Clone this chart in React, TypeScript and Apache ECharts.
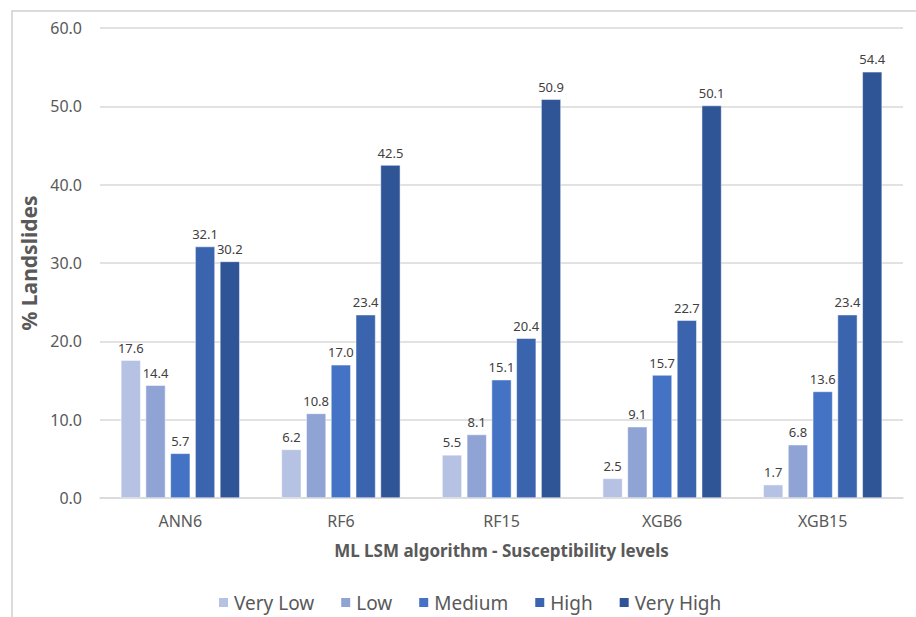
import React, { useEffect, useRef } from "react";
import * as echarts from "echarts";

const categories = ["ANN6", "RF6", "RF15", "XGB6", "XGB15"];
const seriesNames = ["Very Low", "Low", "Medium", "High", "Very High"];
const veryLow = [17.6, 6.2, 5.5, 2.5, 1.7];
const low = [14.4, 10.8, 8.1, 9.1, 6.8];
const medium = [5.7, 17.0, 15.1, 15.7, 13.6];
const high = [32.1, 23.4, 20.4, 22.7, 23.4];
const veryHigh = [30.2, 42.5, 50.9, 50.1, 54.4];
const colors = ["#b6c2e3", "#8fa3d5", "#4472c4", "#3a64ae", "#2f5597"];

export default function App() {
  const ref = useRef<HTMLDivElement>(null);
  useEffect(() => {
    if (!ref.current) return;
    const chart = echarts.init(ref.current, null, { renderer: "svg" });
    const font = "'Noto Sans', 'Open Sans', sans-serif";
    const data = [veryLow, low, medium, high, veryHigh];
    chart.setOption({
      animation: false,
      textStyle: { fontFamily: font },
      graphic: [
        {
          type: "rect",
          shape: { x: 12, y: 11, width: 960, height: 700 },
          style: { fill: "none", stroke: "#d0d0d0", lineWidth: 1.5 },
          silent: true,
        },
      ],
      grid: { left: 100, right: 13, top: 28, bottom: 119 },
      legend: {
        data: seriesNames,
        bottom: 0,
        left: 212,
        icon: "rect",
        itemWidth: 11,
        itemHeight: 11,
        itemGap: 25,
        textStyle: { fontSize: 19, color: "#595959", fontFamily: font },
      },
      xAxis: {
        type: "category",
        data: categories,
        name: "ML LSM algorithm - Susceptibility levels",
        nameLocation: "middle",
        nameGap: 44,
        nameTextStyle: { fontSize: 17, fontWeight: "bold", color: "#595959", fontFamily: font },
        axisLine: { lineStyle: { color: "#d9d9d9", width: 1.5 } },
        axisTick: { show: false },
        axisLabel: { fontSize: 16, color: "#595959", margin: 15, fontFamily: font },
      },
      yAxis: {
        type: "value",
        min: 0,
        max: 60,
        interval: 10,
        name: "% Landslides",
        nameLocation: "middle",
        nameGap: 60,
        nameTextStyle: { fontSize: 21, fontWeight: "bold", color: "#595959", fontFamily: font },
        axisLabel: {
          fontSize: 16,
          color: "#595959",
          margin: 18,
          fontFamily: font,
          formatter: (v: number) => v.toFixed(1),
        },
        splitLine: { lineStyle: { color: "#d9d9d9", width: 1.5 } },
        axisLine: { show: false },
        axisTick: { show: false },
      },
      series: seriesNames.map((name, i) => ({
        name,
        type: "bar",
        data: data[i],
        barGap: "25%",
        barCategoryGap: "26%",
        itemStyle: { color: colors[i], borderColor: "#ffffff", borderWidth: 0.5 },
        label: {
          show: true,
          position: "top",
          distance: 6,
          fontSize: 13,
          color: "#404040",
          fontFamily: font,
          formatter: (p: any) => Number(p.value).toFixed(1),
        },
      })),
    });
    return () => chart.dispose();
  }, []);
  return (
    <div
      ref={ref}
      style={{ position: "fixed", left: 0, top: 0, width: 916, height: 617, background: "#ffffff" }}
    />
  );
}
